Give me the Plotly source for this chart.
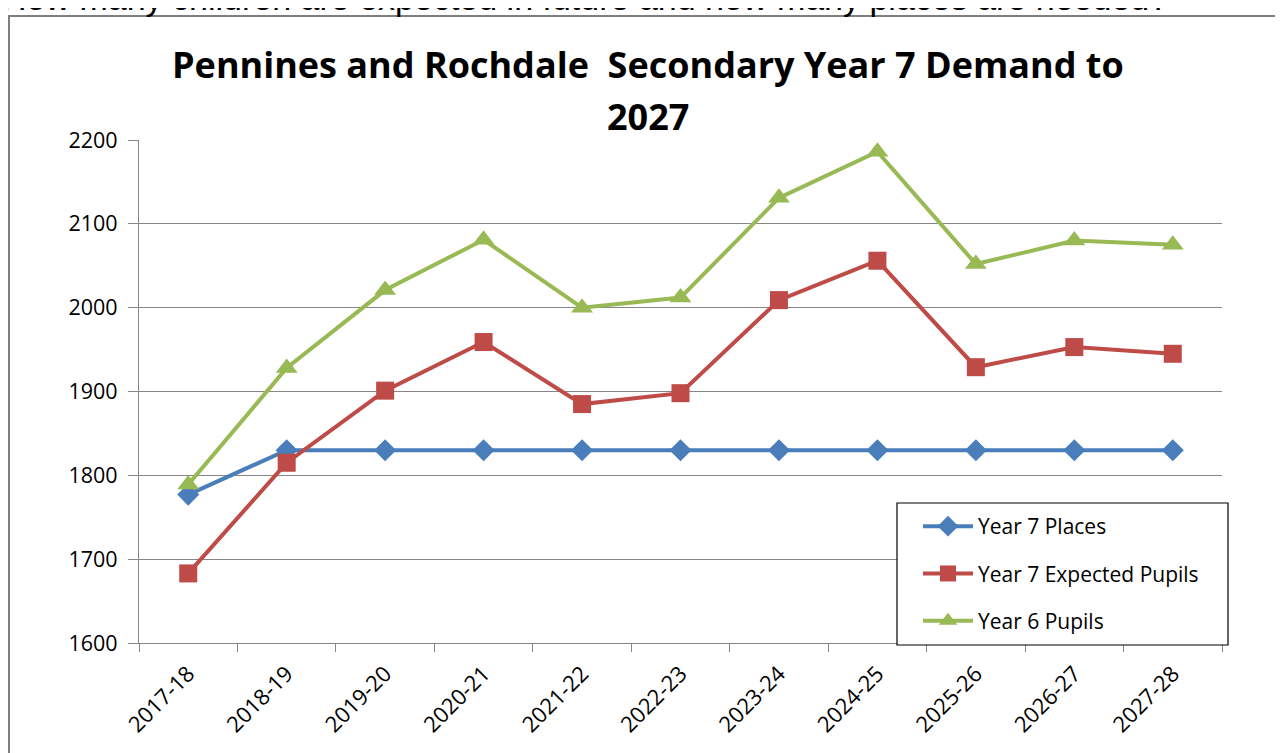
import plotly.graph_objects as go

categories = ["2017-18", "2018-19", "2019-20", "2020-21", "2021-22", "2022-23",
              "2023-24", "2024-25", "2025-26", "2026-27", "2027-28"]
year7_places = [1777, 1830, 1830, 1830, 1830, 1830, 1830, 1830, 1830, 1830, 1830]
year7_expected = [1683, 1815, 1901, 1959, 1885, 1898, 2009, 2056, 1929, 1953, 1945]
year6_pupils = [1789, 1928, 2021, 2081, 2000, 2012, 2131, 2186, 2052, 2080, 2075]
y_ticks = [1600, 1700, 1800, 1900, 2000, 2100, 2200]

OFF = 8  # page body margin
W, H = 1283 - OFF, 753 - OFF
# plot area in page pixels: x 139..1222, y 140..643
L, R, T, B = 139 - OFF, 1283 - 1222, 140 - OFF, 753 - 643
PW, PH = W - L - R, H - T - B


def px(x):
    return (x - OFF - L) / PW


def py(y):
    return 1 - (y - OFF - T) / PH


FONT = "Open Sans"

fig = go.Figure()
series = [
    ("Year 7 Places", year7_places, "#4A7EBB", "diamond", 17),
    ("Year 7 Expected Pupils", year7_expected, "#BE4B48", "square", 18),
    ("Year 6 Pupils", year6_pupils, "#98B954", "triangle-up", 19),
]
for name, vals, col, sym, sz in series:
    fig.add_trace(go.Scatter(
        x=categories, y=vals, name=name, mode="lines+markers",
        line=dict(color=col, width=4),
        marker=dict(symbol=sym, size=sz, color=col),
        legendgroup=name,
    ))

fig.update_layout(
    width=W, height=H,
    margin=dict(l=L, r=R, t=T, b=B, autoexpand=False),
    paper_bgcolor="white", plot_bgcolor="white",
    showlegend=True,
    legend=dict(
        x=px(918), y=py(506), xanchor="left", yanchor="top",
        bgcolor="rgba(0,0,0,0)", borderwidth=0,
        font=dict(family=FONT, size=21, color="#000000"),
        itemwidth=50, tracegroupgap=17, traceorder="grouped",
    ),
    xaxis=dict(
        type="category", range=[-0.5, 10.5],
        showline=True, linecolor="#868686", linewidth=1.2,
        ticks="outside", tickson="boundaries", ticklen=8, tickcolor="#868686",
        tickangle=-45, showgrid=False, ticklabelstandoff=8,
        tickfont=dict(family=FONT, size=22, color="#000000"),
    ),
    yaxis=dict(
        range=[1600, 2200], tickvals=y_ticks,
        showline=True, linecolor="#868686", linewidth=1.2,
        ticks="outside", ticklen=10, tickcolor="#868686", ticklabelstandoff=6,
        showgrid=True, gridcolor="#868686", gridwidth=1.2,
        tickfont=dict(family=FONT, size=21.5, color="#000000"),
        zeroline=False,
    ),
    shapes=[
        dict(type="rect", xref="paper", yref="paper",
             x0=px(9), x1=px(1320), y0=py(16), y1=py(800),
             line=dict(color="#7F7F7F", width=2), fillcolor="rgba(0,0,0,0)", layer="below"),
        dict(type="rect", xref="paper", yref="paper",
             x0=px(897), x1=px(1228), y0=py(503), y1=py(645),
             line=dict(color="#000000", width=1.2), fillcolor="white", layer="above"),
    ],
    annotations=[
        dict(text="How many children are expected in future and how many places are needed?",
             xref="paper", yref="paper", x=px(0), y=py(19), xanchor="left", yanchor="bottom",
             showarrow=False, font=dict(family="Liberation Sans", size=34, color="#000000")),
        dict(text="<b>Pennines and Rochdale  Secondary Year 7 Demand to</b>",
             xref="paper", yref="paper", x=px(648), y=py(64), xanchor="center", yanchor="middle",
             showarrow=False, font=dict(family=FONT, size=36, color="#000000")),
        dict(text="<b>2027</b>",
             xref="paper", yref="paper", x=px(648), y=py(116), xanchor="center", yanchor="middle",
             showarrow=False, font=dict(family=FONT, size=36, color="#000000")),
    ],
)

fig.write_html("out.html")
